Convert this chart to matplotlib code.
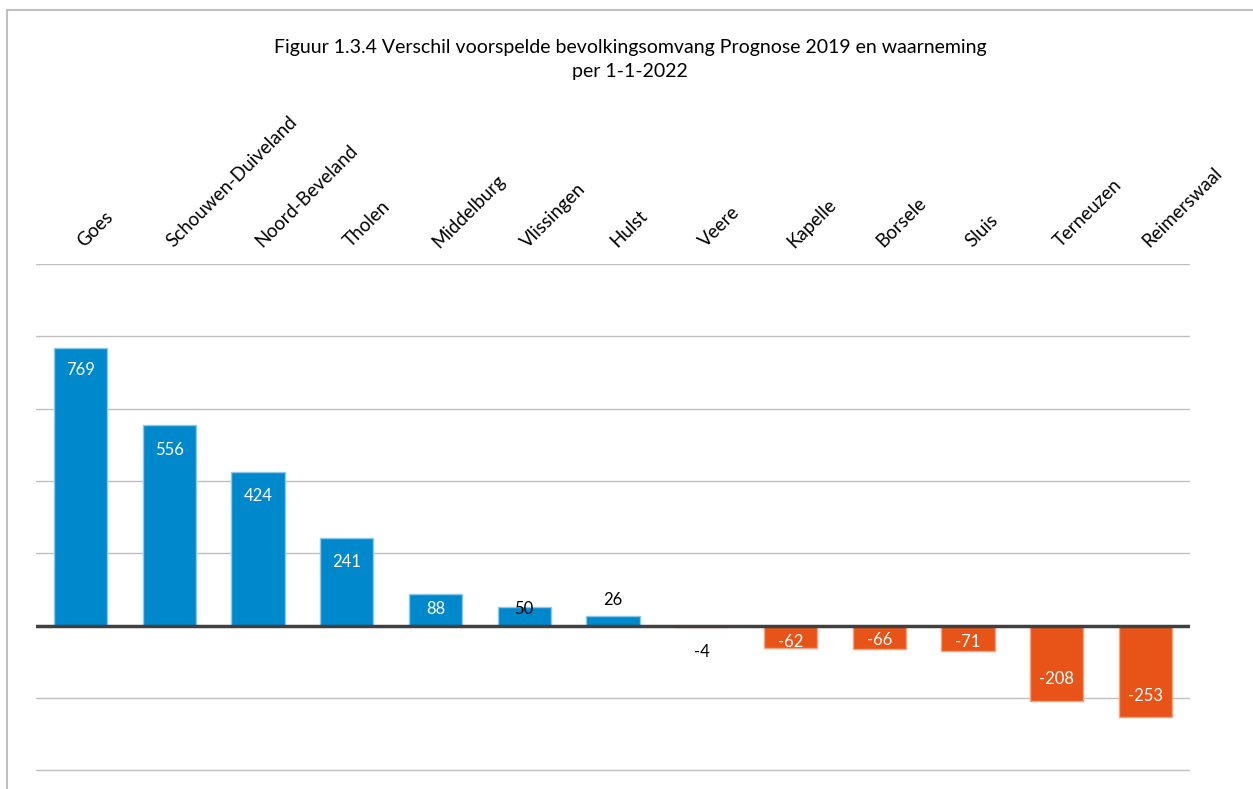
import matplotlib
matplotlib.use("Agg")
import matplotlib.pyplot as plt
from matplotlib.lines import Line2D
import numpy as np

gemeenten = ["Goes", "Schouwen-Duiveland", "Noord-Beveland", "Tholen", "Middelburg",
             "Vlissingen", "Hulst", "Veere", "Kapelle", "Borsele", "Sluis",
             "Terneuzen", "Reimerswaal"]
verschil = [769, 556, 424, 241, 88, 50, 26, -4, -62, -66, -71, -208, -253]

# label offsets in pixels from bar end
label_dy = [-22, -25, -24, -24, -15, -2, 16, -25, 6, 9, 9, 22, 21]
label_col = ["white"] * 5 + ["black", "black", "black"] + ["white"] * 5

plt.rcParams['font.family'] = ['Lato', 'DejaVu Sans']

fig = plt.figure(figsize=(12.53, 7.89), dpi=100)
ax = fig.add_axes([36 / 1253, 1 - 772 / 789, (1190 - 36) / 1253, (772 - 264) / 789])

x = np.arange(len(gemeenten))
kleur = ["#0088cc" if v >= 0 else "#e85418" for v in verschil]
rand = ["#8cc8ea" if v >= 0 else "#f5a27f" for v in verschil]
ax.bar(x, verschil, width=0.6, color=kleur, edgecolor=rand, linewidth=1, zorder=3)

ax.set_xlim(-0.5, len(gemeenten) - 0.5)
ax.set_ylim(-405, 1000)
ax.set_yticks(np.arange(-400, 1001, 200))
ax.yaxis.grid(True, color="#bfbfbf", linewidth=1, zorder=0)
ax.tick_params(axis="y", length=0, labelleft=False)
ax.axhline(0, color="#404040", linewidth=2.5, zorder=4)
for s in ax.spines.values():
    s.set_visible(False)

ax.xaxis.tick_top()
ax.set_xticks(x)
ax.set_xticklabels(gemeenten, rotation=45, ha="left", va="center",
                   rotation_mode="anchor", fontsize=13.5)
ax.tick_params(axis="x", length=0, pad=14)

for i, v in enumerate(verschil):
    ax.annotate(str(v), (x[i], v), xytext=(0, label_dy[i] * 0.72),
                textcoords="offset points", ha="center", va="center",
                color=label_col[i], fontsize=12, zorder=5)

fig.text(0.503, 1 - 47 / 789, "Figuur 1.3.4 Verschil voorspelde bevolkingsomvang Prognose 2019 en waarneming",
         ha="center", va="center", fontsize=14)
fig.text(0.503, 1 - 72 / 789, "per 1-1-2022", ha="center", va="center", fontsize=14)

# outer frame (left and top edge only visible)
fig.add_artist(Line2D([7 / 1253, 7 / 1253], [0, 1 - 10 / 789], color="#bfbfbf", linewidth=1.5,
                      transform=fig.transFigure))
fig.add_artist(Line2D([7 / 1253, 1], [1 - 10 / 789, 1 - 10 / 789], color="#bfbfbf", linewidth=1.5,
                      transform=fig.transFigure))

fig.savefig("out.png", dpi=100, facecolor="white")
